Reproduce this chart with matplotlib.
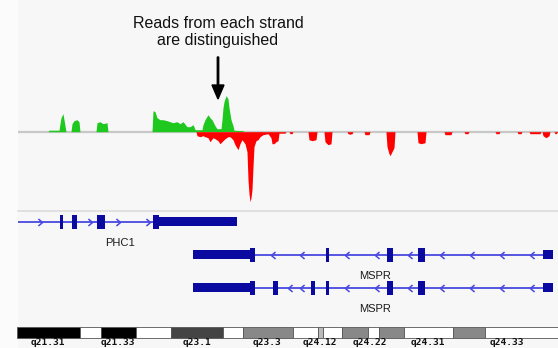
import matplotlib
matplotlib.use("Agg")
import matplotlib.pyplot as plt
from matplotlib.path import Path
from matplotlib.patches import Rectangle

# ---------------- data ----------------
# genomic positions are in arbitrary browser units (track spans 18..558)
plus_pos = [18, 48, 49, 59, 60, 61, 63, 64, 65, 66, 71, 72, 74, 77, 79, 80,
            96, 97, 100, 103, 107, 108, 152, 153, 155, 157, 160, 163, 167, 170,
            173, 177, 180, 183, 187, 190, 193, 194, 195, 202, 203, 205, 208, 210,
            212, 215, 217, 221, 222, 223, 224, 226, 228, 229, 231, 233, 234, 243, 244]
plus_val = [0, 0, 1.5, 1.5, 8, 14, 18, 12, 6, 0, 0, 8, 11, 12, 10, 0,
            0, 9, 10, 8, 9, 0, 0, 21, 20, 14, 12, 12, 11, 10, 9, 10, 8, 10, 5, 5,
            7, 5, 2, 2, 7, 12, 17, 14, 12, 6, 3, 3, 12, 24, 30, 36, 33, 24, 12, 6,
            1.5, 1, 0]

minus_pos = [196, 197, 200, 203, 205, 208, 210, 213, 215, 218, 220, 223, 225,
             228, 230, 233, 235, 238, 240, 242, 245, 247, 248, 249, 250, 251, 252,
             253, 254, 256, 258, 260, 263, 268, 271, 272, 274, 276, 278, 279, 285,
             286, 289, 290, 292, 293, 308, 309, 312, 316, 317, 324, 325, 328, 331,
             332, 347, 348, 350, 352, 353, 364, 365, 367, 369, 370, 386, 387, 389,
             390, 392, 394, 395, 417, 418, 421, 425, 426, 444, 445, 448, 451, 452,
             464, 465, 468, 469, 495, 496, 499, 500, 517, 518, 521, 522, 529, 530,
             540, 541, 542, 543, 546, 549, 550, 554, 555, 556, 558]
minus_val = [0, 4, 5, 4, 5, 6, 10, 6, 7, 9, 12, 9, 7, 5, 5, 8, 13, 18, 12, 8,
             12, 20, 48, 62, 70, 66, 58, 35, 15, 9, 8, 5, 3, 2, 6, 12, 12, 10, 9,
             1.5, 1.5, 0, 0, 2, 2, 0, 0, 8, 9, 8, 0, 0, 10, 13, 12, 0, 0, 2, 2.5,
             2, 0, 0, 3, 3, 3, 0, 0, 15, 22, 24, 20, 16, 0, 0, 11, 12, 11, 0, 0,
             3, 3, 3, 0, 0, 2, 2, 0, 0, 2, 2, 0, 0, 2, 2, 0, 0, 2, 2, 0, 0, 4, 6,
             4, 0, 0, 2, 2, 0]

# gene models: (start, end, kind)  kind: 'exon' (tall) or 'thick'
genes = ["PHC1", "MSPR", "MSPR"]
gene_rows = [0, 1, 2]
gene_line = [(18, 153), (255, 543), (255, 543)]
gene_strand = [">", "<", "<"]
gene_blocks = [
    [(60, 63, "exon"), (72, 77, "exon"), (97, 105, "exon"), (153, 159, "exon"),
     (159, 237, "thick")],
    [(193, 250, "thick"), (250, 255, "exon"), (326, 329, "exon"),
     (387, 393, "exon"), (418, 425, "exon"), (543, 553, "thick")],
    [(193, 250, "thick"), (250, 255, "exon"), (273, 278, "exon"),
     (311, 315, "exon"), (326, 329, "exon"), (387, 393, "exon"),
     (418, 425, "exon"), (543, 553, "thick")],
]
gene_arrows = [
    [40, 90, 118, 148],
    [273, 302, 347, 377, 410, 442, 472, 502, 532],
    [290, 302, 347, 377, 410, 442, 472, 502, 532],
]
gene_label_pos = [120, 375, 375]

# ideogram bands
band_start = [17, 80, 101, 136, 171, 223, 243, 293, 318, 323, 342, 368, 379, 404, 453, 485]
band_end = [80, 101, 136, 171, 223, 243, 293, 318, 323, 342, 368, 379, 404, 453, 485, 560]
band_color = ["#000000", "#ffffff", "#000000", "#ffffff", "#444444", "#ffffff",
              "#888888", "#ffffff", "#bbbbbb", "#ffffff", "#888888", "#ffffff",
              "#888888", "#ffffff", "#888888", "#ffffff"]
band_labels = ["q21.31", "q21.33", "q23.1", "q23.3", "q24.12", "q24.22", "q24.31", "q24.33"]
band_label_pos = [48, 118, 197, 267, 320, 370, 428, 507]

title_lines = ["Reads from each strand", "are distinguished"]

# ---------------- figure ----------------
W, H = 558, 348
fig = plt.figure(figsize=(W / 100, H / 100), dpi=100, facecolor="#fbfbfb")


def add_ax(x0, y0, x1, y1):
    return fig.add_axes([x0 / W, 1 - y1 / H, (x1 - x0) / W, (y1 - y0) / H])


GREEN = "#1ec81e"
RED = "#ff0000"
EXON = "#0a0aa0"
LINE = "#4848e0"

# background panel
bg = add_ax(18, 0, 558, 348)
bg.set_facecolor("#f7f7f7")
bg.set_xticks([]); bg.set_yticks([])
for s in bg.spines.values():
    s.set_visible(False)
bg.set_zorder(-5)

# coverage track
ax = add_ax(18, 60, 558, 211)
ax.set_xlim(18, 558)
ax.set_ylim(-79.3, 71.7)
ax.axis("off")
ax.axhline(0, color="#c8c8c8", lw=1.6, zorder=1)
ax.fill_between(plus_pos, 0, plus_val, color=GREEN, lw=0, zorder=2)
ax.fill_between(minus_pos, 0, [-v for v in minus_val], color=RED, lw=0, zorder=2)
ax.axhline(-79.3, color="#dcdcdc", lw=1.2, clip_on=False)

# gene track
g = add_ax(18, 211, 558, 318)
g.set_xlim(18, 558)
g.set_ylim(2.909, -0.333)
g.axis("off")
px = 1 / 33.0
right_chev = Path([(-0.6, 1), (0.6, 0), (-0.6, -1)], [Path.MOVETO, Path.LINETO, Path.LINETO])
left_chev = Path([(0.6, 1), (-0.6, 0), (0.6, -1)], [Path.MOVETO, Path.LINETO, Path.LINETO])
for name, row, (l0, l1), strand, blocks, arrows, lx in zip(
        genes, gene_rows, gene_line, gene_strand, gene_blocks, gene_arrows, gene_label_pos):
    g.plot([l0, l1], [row, row], color=LINE, lw=1.3, zorder=1, solid_capstyle="butt")
    g.plot(arrows, [row] * len(arrows), ls="none",
           marker=right_chev if strand == ">" else left_chev,
           markersize=5, markerfacecolor="none", markeredgecolor=LINE,
           markeredgewidth=1.1, zorder=2)
    for s, e, kind in blocks:
        h = 14 * px if kind == "exon" else 9 * px
        g.add_patch(Rectangle((s, row - h / 2), e - s, h, facecolor=EXON,
                              edgecolor="none", zorder=3))
    g.text(lx, row + 21 * px, name, ha="center", va="center", fontsize=8,
           family=["Liberation Sans", "DejaVu Sans"], color="#1a1a1a")

# ideogram
idg = add_ax(18, 326.5, 558, 337.5)
idg.set_xlim(18, 558)
idg.set_ylim(0, 1)
idg.axis("off")
for s, e, c in zip(band_start, band_end, band_color):
    idg.add_patch(Rectangle((s, 0), e - s, 1, facecolor=c, edgecolor="#555555",
                            lw=0.6, clip_on=False))
for lab, p in zip(band_labels, band_label_pos):
    idg.text(p, -0.43, lab, ha="center", va="center", fontsize=6.8,
             family="DejaVu Sans Mono", fontweight="bold", color="#111111",
             clip_on=False)

# annotation
fig.text(218 / W, 1 - 23 / H, title_lines[0], ha="center", va="center",
         fontsize=11.5, family=["Liberation Sans", "DejaVu Sans"], color="#111111")
fig.text(218 / W, 1 - 41 / H, title_lines[1], ha="center", va="center",
         fontsize=11.5, family=["Liberation Sans", "DejaVu Sans"], color="#111111")
fig.patches.append(matplotlib.patches.FancyArrow(
    218 / W, 1 - 57 / H, 0, -(41 - 13) / H, width=1.4 / W, head_width=12 / W,
    head_length=14 / H, length_includes_head=False, color="black",
    transform=fig.transFigure, figure=fig))

fig.savefig("out.png", dpi=100, facecolor=fig.get_facecolor())
